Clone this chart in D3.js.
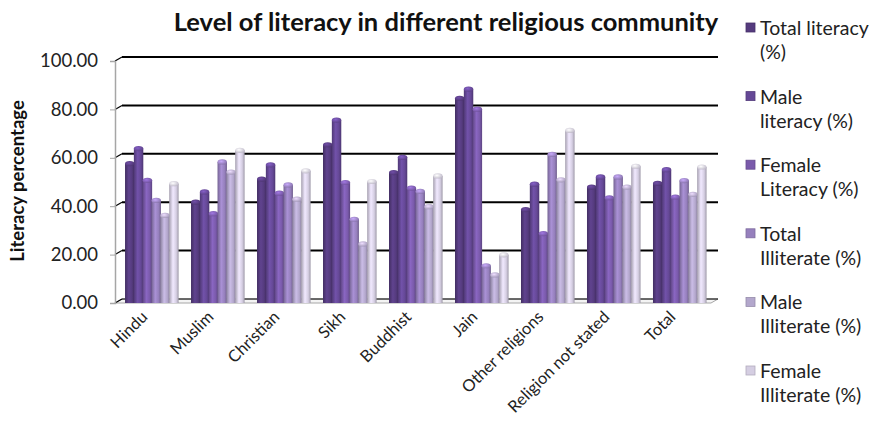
<!DOCTYPE html>
<html>
<head>
<meta charset="utf-8">
<script src="https://cdn.jsdelivr.net/npm/d3@7"></script>
<style>
  body { margin: 0; background: #fff; }
  svg { display: block; font-family: Lato, "Open Sans", sans-serif; }
</style>
</head>
<body>
<svg id="chart" width="894" height="436"></svg>
<script>
// data
var religions = ["Hindu", "Muslim", "Christian", "Sikh", "Buddhist", "Jain",
                 "Other religions", "Religion not stated", "Total"];
var seriesNames = ["Total literacy (%)", "Male literacy (%)", "Female Literacy (%)",
                   "Total Illiterate (%)", "Male Illiterate (%)", "Female Illiterate (%)"];
var legendLines = [["Total literacy", "(%)"], ["Male", "literacy (%)"], ["Female", "Literacy (%)"],
                   ["Total", "Illiterate (%)"], ["Male", "Illiterate (%)"], ["Female", "Illiterate (%)"]];
var totalLiteracy    = [57.6, 41.7, 51.2, 65.4, 53.9, 84.6, 38.6, 47.9, 49.4];
var maleLiteracy     = [63.8, 45.9, 57.1, 75.6, 60.2, 88.4, 49.1, 52.1, 55.1];
var femaleLiteracy   = [50.7, 36.9, 45.4, 49.8, 47.5, 80.1, 28.7, 43.5, 43.8];
var totalIlliterate  = [42.4, 58.3, 48.8, 34.6, 46.1, 15.4, 61.4, 52.1, 50.6];
var maleIlliterate   = [36.2, 54.1, 42.9, 24.4, 39.8, 11.6, 50.9, 47.9, 44.9];
var femaleIlliterate = [49.3, 63.1, 54.6, 50.2, 52.5, 19.9, 71.3, 56.5, 56.2];
var yTicks = [0, 20, 40, 60, 80, 100];
var colors = ["#553b7e", "#654896", "#7a5aab", "#9680bd", "#b3a7cc", "#d5cee2"];

var series = [totalLiteracy, maleLiteracy, femaleLiteracy, totalIlliterate, maleIlliterate, femaleIlliterate];

var svg = d3.select("#chart");
var depth = {dx: 7, dy: -4};

var x = d3.scaleBand().domain(religions).range([115, 716])
    .paddingInner(0.197).paddingOuter(0.152);
var xs = d3.scaleBand().domain(d3.range(series.length)).range([0, x.bandwidth()]);
var y = d3.scaleLinear().domain([0, 100]).range([303, 61]);

// gradients to fake the cylinders
var defs = svg.append("defs");
colors.forEach(function (c, i) {
    var g = defs.append("linearGradient").attr("id", "cyl" + i)
        .attr("x1", "0%").attr("x2", "100%").attr("y1", "0%").attr("y2", "0%");
    g.append("stop").attr("offset", "0%").attr("stop-color", d3.color(c).darker(0.7));
    g.append("stop").attr("offset", "40%").attr("stop-color", d3.color(c).brighter(0.35));
    g.append("stop").attr("offset", "75%").attr("stop-color", c);
    g.append("stop").attr("offset", "100%").attr("stop-color", d3.color(c).darker(0.8));
    var r = defs.append("radialGradient").attr("id", "cap" + i)
        .attr("cx", "40%").attr("cy", "40%").attr("r", "70%");
    r.append("stop").attr("offset", "0%").attr("stop-color", d3.color(c).brighter(0.8));
    r.append("stop").attr("offset", "100%").attr("stop-color", d3.color(c).darker(0.4));
});

// floor
var x0 = 115, x1 = 711;
svg.append("path")
    .attr("d", "M" + x0 + "," + y(0) + "L" + x1 + "," + y(0) + "L" + (x1 + depth.dx) + "," + (y(0) + depth.dy) +
        "L" + (x0 + depth.dx) + "," + (y(0) + depth.dy) + "Z")
    .attr("fill", "#f4f4f4").attr("stroke", "#a6a6a6").attr("stroke-width", 1);

// back wall gridlines with the diagonal link to the axis
yTicks.forEach(function (t) {
    svg.append("line")
        .attr("x1", x0 + depth.dx).attr("x2", x1 + depth.dx)
        .attr("y1", y(t) + depth.dy).attr("y2", y(t) + depth.dy)
        .attr("stroke", "#000").attr("stroke-width", t === 0 ? 1 : 2);
    svg.append("line")
        .attr("x1", x0).attr("y1", y(t))
        .attr("x2", x0 + depth.dx).attr("y2", y(t) + depth.dy)
        .attr("stroke", "#000").attr("stroke-width", 1.2);
});

// left axis
var yAxis = d3.axisLeft(y).tickValues(yTicks).tickSize(5).tickFormat(d3.format(".2f"));
var ya = svg.append("g").attr("transform", "translate(" + x0 + ",0)").call(yAxis);
ya.select(".domain").attr("stroke", "#a6a6a6").attr("stroke-width", 1.5);
ya.selectAll(".tick line").attr("stroke", "#a6a6a6");
ya.selectAll(".tick text").attr("font-size", 18.5).attr("fill", "#222").attr("x", -17)
    .style("font-family", "Lato, 'Open Sans', sans-serif");

// bars
var groups = svg.append("g").selectAll("g").data(religions).enter().append("g")
    .attr("transform", function (d) { return "translate(" + x(d) + ",0)"; });

series.forEach(function (vals, si) {
    var w = xs.bandwidth() + 0.6;
    var bar = groups.append("g");
    bar.append("rect")
        .attr("x", xs(si))
        .attr("y", function (d, i) { return y(vals[i]); })
        .attr("width", w)
        .attr("height", function (d, i) { return y(0) - y(vals[i]); })
        .attr("fill", "url(#cyl" + si + ")");
    bar.append("ellipse")
        .attr("cx", xs(si) + w / 2)
        .attr("cy", function (d, i) { return y(vals[i]); })
        .attr("rx", w / 2).attr("ry", 2.6)
        .attr("fill", "url(#cap" + si + ")");
});

// category labels
svg.append("g").selectAll("text").data(religions).enter().append("text")
    .attr("transform", function (d) {
        return "translate(" + (x(d) + x.bandwidth() / 2 - 3) + ",318) rotate(-45)";
    })
    .attr("text-anchor", "end")
    .attr("font-size", 16.5).attr("fill", "#222")
    .text(function (d) { return d; });

// title
svg.append("text")
    .attr("x", 446).attr("y", 31)
    .attr("text-anchor", "middle")
    .attr("font-size", 25.5).attr("font-weight", "bold").attr("fill", "#111")
    .text("Level of literacy in different religious community");

// y axis title
svg.append("text")
    .attr("transform", "translate(24,181) rotate(-90)")
    .attr("text-anchor", "middle")
    .attr("font-size", 18.5).attr("font-weight", "bold").attr("fill", "#111")
    .text("Literacy percentage");

// legend
var legend = svg.append("g").selectAll("g").data(seriesNames).enter().append("g")
    .attr("transform", function (d, i) { return "translate(746," + (28 + i * 68.6) + ")"; });
legend.append("rect")
    .attr("x", 0).attr("y", -5).attr("width", 9).attr("height", 9)
    .attr("fill", function (d, i) { return colors[i]; })
    .attr("stroke", function (d, i) { return d3.color(colors[i]).darker(0.5); })
    .attr("stroke-width", 0.8);
legend.append("text")
    .attr("font-size", 19.5).attr("fill", "#222")
    .selectAll("tspan").data(function (d, i) { return legendLines[i]; }).enter().append("tspan")
    .attr("x", 14).attr("y", function (d, j) { return 7 + j * 24; })
    .text(function (d) { return d; });
</script>
</body>
</html>
